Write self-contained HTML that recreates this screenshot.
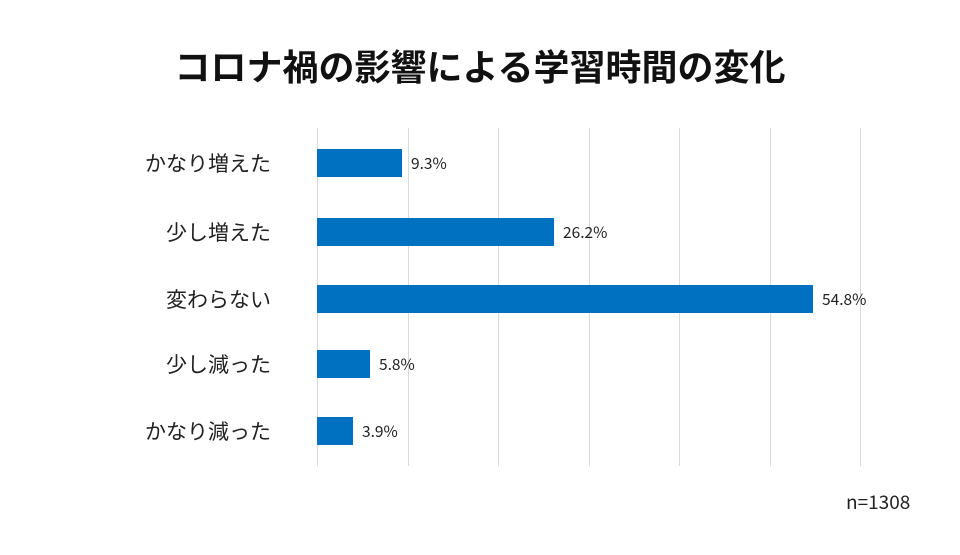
<!DOCTYPE html>
<html><head><meta charset="utf-8"><style>
body{margin:0;width:960px;height:555px;background:#fff;position:relative;overflow:hidden;font-family:"Liberation Sans","Noto Sans CJK JP",sans-serif;}
.t{position:absolute;left:0;width:960px;top:39px;text-align:center;font-size:36px;font-weight:bold;color:#111;font-family:"Noto Sans CJK JP",sans-serif;}
.g{position:absolute;top:128px;height:338px;width:1px;background:#d9d9d9;}
.b{position:absolute;left:317px;height:28px;background:#0070c0;}
.l{position:absolute;right:689px;font-size:21px;color:#222;font-family:"Noto Sans CJK JP",sans-serif;line-height:28px;white-space:nowrap;}
.v{position:absolute;font-size:15.5px;color:#222;line-height:28px;font-family:"Noto Sans CJK JP",sans-serif;}
.n{position:absolute;left:846px;top:488px;font-size:19px;color:#222;font-family:"Noto Sans CJK JP",sans-serif;}
</style></head><body>
<div class="t">コロナ禍の影響による学習時間の変化</div>
<div class="g" style="left:317px"></div><div class="g" style="left:408px"></div><div class="g" style="left:498px"></div><div class="g" style="left:589px"></div><div class="g" style="left:679px"></div><div class="g" style="left:770px"></div><div class="g" style="left:860px"></div>
<div class="b" style="top:149px;width:85px"></div><div class="l" style="top:149px">かなり増えた</div><div class="v" style="top:149px;left:411px">9.3%</div>
<div class="b" style="top:218px;width:237px"></div><div class="l" style="top:218px">少し増えた</div><div class="v" style="top:218px;left:563px">26.2%</div>
<div class="b" style="top:285px;width:496px"></div><div class="l" style="top:285px">変わらない</div><div class="v" style="top:285px;left:822px">54.8%</div>
<div class="b" style="top:350px;width:53px"></div><div class="l" style="top:350px">少し減った</div><div class="v" style="top:350px;left:379px">5.8%</div>
<div class="b" style="top:417px;width:36px"></div><div class="l" style="top:417px">かなり減った</div><div class="v" style="top:417px;left:362px">3.9%</div>
<div class="n">n=1308</div>
</body></html>
